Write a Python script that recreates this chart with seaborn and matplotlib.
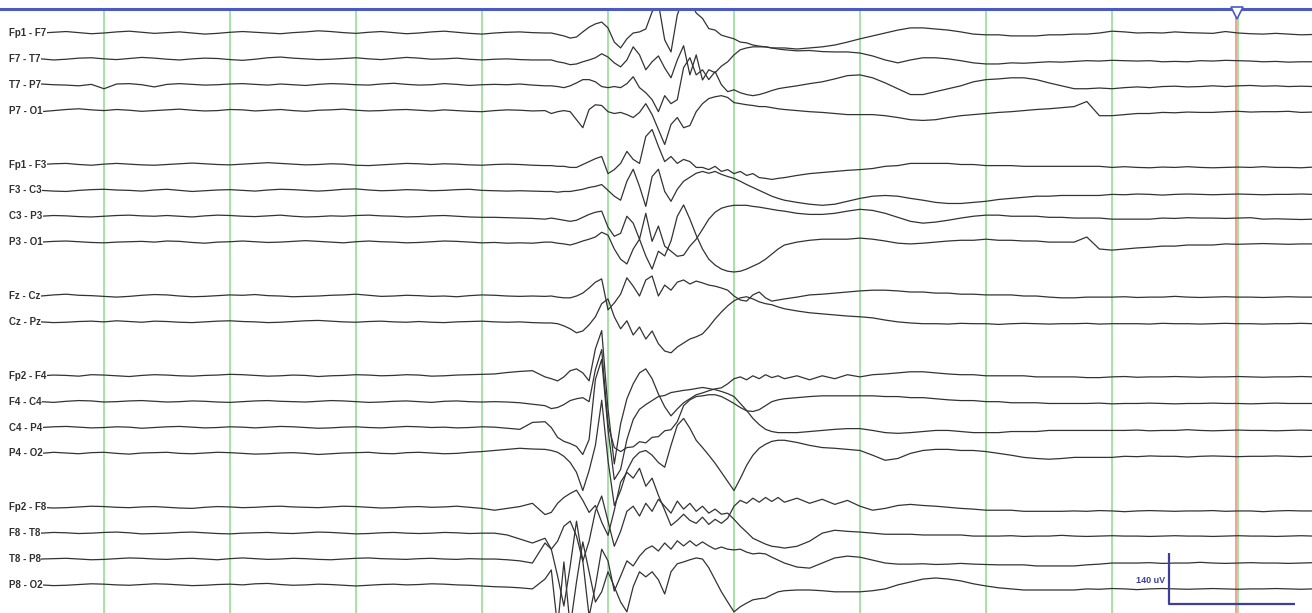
import numpy as np
import pandas as pd
import matplotlib
matplotlib.use("Agg")
import matplotlib.pyplot as plt
import matplotlib.transforms as mtransforms
import seaborn as sns

# ---------------------------------------------------------------------------
# Sampling times (s): 0.1 s before the burst, 0.05 s through it, 0.1 s after
# ---------------------------------------------------------------------------
sample_times = np.round(np.r_[np.arange(0.5, 4.51, 0.1),
                              np.arange(4.55, 6.351, 0.05),
                              np.arange(6.4, 10.61, 0.1)], 3)

# Bipolar montage (double banana) and the chain each derivation belongs to
channel_labels = ["Fp1 - F7", "F7 - T7", "T7 - P7", "P7 - O1",
                  "Fp1 - F3", "F3 - C3", "C3 - P3", "P3 - O1",
                  "Fz - Cz", "Cz - Pz",
                  "Fp2 - F4", "F4 - C4", "C4 - P4", "P4 - O2",
                  "Fp2 - F8", "F8 - T8", "T8 - P8", "P8 - O2"]
channel_chains = [0, 0, 0, 0, 1, 1, 1, 1, 2, 2, 3, 3, 3, 3, 4, 4, 4, 4]

# Amplitudes in microvolts (positive = upward deflection on screen)
fp1_f7 = [0, 2, 4, 1, -2, 0, 3, 5, 2, -1, 1, 3, 0, -3, -1, 2, 4, 2, 0, -2,
          1, 3, 6, 4, 1, -1, 2, 4, 1, -2, 0, 3, 5, 2, -1, -3, 0, 2, 3, 1, 0,
          0, -4, -8, -14, -11, 3, 16, 25, 30, 14, -25, -41, -16, 0, 3, 11, 58, 82, -19, -52,
          50, 96, 88, 55, 40, 12, 8, -6, -11, -16, -25, -27, -33, -36, -38, -41, -41,
          -41, -44, -41, -38, -33, -25, -16, -8, 0, 8, 14, 14, 11, 8, 3, -3, -5, -5, -8, -8,
          -8, -5, -5, -3, -3, 0, 5, 3, 0, 1, 0, 3, 1, 0, -1, 4, 0, -2, -3, -1, -3, -5, -4]
f7_t7 = [0, -3, -1, 2, 3, 0, -2, 1, 4, 2, -1, -3, 0, 2, 1, -2, -4, -1, 3, 5,
         2, 0, -2, -1, 1, 3, 0, -2, 1, 4, 2, -1, 0, 2, -1, -3, -1, 0, -2, -3, -3,
         -3, -8, -11, -16, -14, -8, -3, 3, 14, 5, -11, -22, -3, 33, 11, -30, -8, 8, -25, -52,
         -3, 36, -44, 11, -58, -30, -38, -20, -8, 11, 25, 30, 33, 33, 33, 30, 27,
         25, 22, 23, 20, 19, 19, 16, 8, -3, -11, -3, 3, 3, 0, -5, -11, -14, -14, -11, -12,
         -10, -8, -9, -7, -5, -6, -4, -5, -6, -5, -8, -7, -8, -5, -6, -4, -5, -6, -8, -7, -9, -8, -8]
t7_p7 = [2, 0, -1, -3, 1, -11, 2, 3, 0, -6, 1, 3, 1, -1, 0, 2, 3, 1, -1, 2,
         0, -2, 1, 3, 2, 0, -1, 2, 4, 1, -1, 0, 3, 1, -2, 0, 1, 0, 2, -1, -3,
         -3, -5, -8, -3, 5, 14, 14, 8, -5, -8, -5, -8, 3, 22, -8, -22, -41, -74, -30, -52,
         -41, 47, 74, 27, 41, 14, 36, 0, -19, -14, -22, -27, -30, -27, -22, -16, -11,
         -8, -3, 3, 8, 16, 25, 27, 19, 5, -11, -27, -27, -19, -11, -3, 8, 14, 16, 19, 19,
         14, 5, -3, -11, -11, -9, -11, -8, -6, -8, -5, -4, -6, -5, -3, -5, -3, -2, -4, -3, -5, -4, -5]
p7_o1 = [-3, 0, 3, 5, 2, 0, 3, 1, -2, 0, 2, 4, 1, -1, 0, 3, 2, -1, 1, 3,
         0, -2, 1, 2, 4, 1, -1, 0, 2, 3, 1, -1, 2, 0, -2, -3, 0, 2, 1, -1, 0,
         -8, -3, 0, -3, -25, -47, 3, 16, 14, -3, -8, -5, -11, -19, -5, 19, -11, -52, -93, -38,
         -19, -47, -41, -3, 19, 33, 38, 41, 36, 22, 19, 16, 14, 11, 11, 8, 5,
         3, 0, -3, -5, -8, -11, -11, -11, -14, -19, -25, -27, -25, -19, -14, -11, -8, -5, -3, 0,
         3, 5, 8, 11, 25, -14, -14, -11, -8, -8, -5, -6, -4, -5, -5, -3, -2, -4, -3, -3, -2, -5, -4]
fp1_f3 = [0, 2, 3, 0, -2, 1, 3, 1, -1, -2, 0, 2, 4, 2, 0, -1, 1, 3, 5, 3,
          1, -1, 0, 2, 1, -2, -3, -1, 1, 3, 2, 0, 2, 1, -1, -2, 0, 1, 0, -2, -3,
          -3, -5, -5, -8, -8, 0, 8, 16, 22, -25, -14, 3, 36, 14, 3, 77, 96, 50, 8, 22,
          3, 14, 8, -8, -8, -14, -5, -19, -14, -25, -19, -30, -25, -36, -38, -41, -38,
          -36, -30, -25, -22, -19, -16, -14, -11, -5, -3, 3, 3, 3, 3, 0, 0, -3, -3, -3, -5,
          -5, -5, -5, -5, -5, -5, -8, -6, -8, -9, -7, -8, -6, -8, -9, -8, -7, -8, -6, -8, -8, -9, -7]
f3_c3 = [0, -2, -3, 0, 2, 3, 1, 0, -2, 1, 3, 0, -3, -1, 1, 2, 0, -2, 1, 3,
         2, 0, -2, 0, 3, 4, 1, -1, 0, 2, 1, -1, 0, 2, 3, 0, -1, -2, -1, -2, -3,
         -3, -5, -3, -3, 0, 3, 8, 11, 16, 0, -16, -27, 25, 58, 11, -44, 38, 58, -3, -30,
         3, 25, 36, 47, 52, 47, 52, 44, 38, 33, 25, 16, 8, 0, -8, -16, -22,
         -27, -33, -38, -41, -38, -30, -22, -16, -14, -16, -22, -27, -33, -36, -36, -33, -30, -25, -22, -19,
         -16, -16, -14, -14, -14, -14, -11, -12, -10, -11, -13, -11, -10, -11, -12, -11, -10, -11, -12, -11, -11, -10, -11]
c3_p3 = [0, 2, 1, -1, -2, 0, 2, 3, 1, 0, 2, 0, -2, 1, 3, 2, 0, -1, 1, 3,
         0, -2, -1, 1, 0, 2, 3, 1, 0, -2, -1, 1, 2, 0, -2, -3, -3, -4, -5, -6, -8,
         -5, -8, -11, -14, -11, -3, 5, 11, 14, -30, -55, -47, 0, -19, -63, 8, -69, -27, -82, -96,
         -110, -107, -82, -63, -36, -8, 11, 22, 27, 30, 30, 30, 27, 25, 22, 19, 16,
         14, 8, 5, 5, 8, 14, 19, 16, 8, -3, -14, -19, -16, -11, -5, 0, 3, 3, 0, 0,
         0, -3, -3, -5, -5, -5, -8, -8, -8, -8, -5, -6, -4, -5, -5, -6, -5, -4, -8, -7, -8, -9, -8]
p3_o1 = [0, 2, 3, 1, -1, -2, 0, 1, 2, 0, 3, 2, -1, -3, 0, 1, 3, 1, -1, 0,
         2, 4, 2, 0, -2, 1, 3, 1, 0, -2, -1, 1, 3, 2, 0, -2, -1, -3, -2, -3, 0,
         0, -3, -5, -8, -3, 3, 8, 14, 27, 19, -19, -47, -60, -19, 8, -38, -74, -25, -38, 3,
         71, 102, 63, 19, -19, -47, -63, -74, -80, -82, -80, -74, -66, -58, -47, -33, -19,
         -8, 0, 5, 8, 8, 8, 11, 8, 3, -3, -5, -3, 0, 3, 5, 5, 8, 5, 5, 3,
         3, 0, 0, 0, 14, -19, -22, -19, -16, -14, -11, -11, -8, -8, -8, -5, -6, -5, -4, -5, -6, -5, -5]
fz_cz = [0, 3, 5, 2, 1, -1, -3, -1, 2, 4, 3, 0, -2, -1, 1, 3, 2, 4, 1, 0,
         -2, -1, 0, 2, 3, 5, 2, -1, 0, 2, 1, -1, 0, -2, 1, 3, 2, 0, -1, 0, -1,
         0, -3, -5, -5, 0, 8, 22, 38, 47, -38, -19, 5, 50, 27, 0, 44, 55, 0, 30, 16,
         38, 44, 33, 41, 36, 30, 27, 22, 16, 0, -11, -14, 3, 11, -5, -14, -11,
         -8, -3, 3, 5, 8, 11, 14, 16, 16, 14, 11, 11, 8, 8, 5, 5, 3, 3, 3, 0,
         0, -3, -5, -5, -3, -3, -3, -2, -4, -3, -3, -1, -3, -4, -3, -2, -3, -3, -4, -3, -2, -3, -3]
cz_pz = [0, -2, -1, 1, 2, 0, 3, 1, -1, 2, 1, -1, -2, 0, 2, 3, 1, 0, -2, -1,
         1, 3, 4, 2, 0, -1, 1, 2, 0, -1, 1, -1, -2, 0, 1, 2, 0, -1, 0, -2, -3,
         -3, -5, -11, -19, -30, -25, -8, 14, 50, 63, 14, -19, 3, -36, -14, -47, -25, -60, -80, -85,
         -69, -58, -47, -41, -33, -14, 8, 27, 44, 58, 66, 69, 63, 55, 50, 47, 41,
         36, 30, 25, 22, 19, 16, 14, 11, 5, 0, -3, -5, -5, -6, -4, -5, -5, -7, -5, -4,
         -5, -6, -5, -5, -4, -6, -5, -5, -5, -6, -4, -5, -5, -6, -5, -4, -5, -5, -6, -5, -5, -4, -5]
fp2_f4 = [0, 2, 1, -1, 3, 2, 0, -2, 1, 3, 2, 0, -1, 1, 2, 4, 3, 1, -1, 0,
          2, 1, -2, 0, 1, 3, 2, 0, 1, 3, 2, -1, 0, 2, 3, 4, 5, 9, 12, 14, -3,
          -8, -14, -3, 14, 19, 8, -14, 74, 124, -91, -242, -132, -63, -22, 8, 19, -8, -50, -85, -110,
          -91, -74, -63, -52, -47, -41, -36, -33, -22, -8, -3, -11, 0, -8, 3, -5, 0,
          -8, 0, -11, 0, -8, 3, -3, 3, 5, 8, 11, 11, 8, 5, 3, 3, 0, 0, 0, 0,
          -3, -3, -3, -3, -5, -5, -3, -2, -4, -3, -3, -2, -3, -4, -3, -3, -2, -3, -4, -3, -3, -2, -3]
f4_c4 = [0, -2, 1, 3, 2, -1, 0, 2, 3, 1, -1, 0, 2, 1, -1, -2, 0, 2, 3, 1,
         0, -1, 1, 3, 2, 0, -2, -1, 1, 2, 0, -2, 1, 2, 0, -1, 0, -1, -3, -7, -11,
         -19, -16, -8, 3, 8, 11, 0, 88, 143, -63, -126, -137, -126, -124, -110, -113, -98, -96, -80, -77,
         -55, -11, 5, 14, 16, 19, 19, 14, 5, -5, -16, -25, -27, -22, -11, 0, 5,
         8, 11, 14, 16, 16, 16, 16, 16, 14, 14, 11, 11, 8, 5, 3, 3, 0, 0, -3, -3,
         -3, -5, -5, -5, -5, -4, -6, -5, -5, -4, -5, -6, -5, -5, -4, -5, -5, -6, -5, -4, -5, -5, -5]
c4_p4 = [0, 2, 3, 1, -1, 0, 2, 1, -2, 0, 2, 3, 1, -1, 0, 2, 1, -1, 1, 3,
         2, 0, -2, -1, 1, 2, 0, -1, 1, 3, 2, 0, 1, -1, 0, 2, 1, -2, -5, 14, 16,
         0, -27, -38, -44, -52, -74, -33, 132, 187, -5, -143, -115, -33, 22, 50, 63, 74, 85, 88, 96,
         99, 102, 104, 107, 110, 107, 104, 99, 93, 85, 66, 47, 25, 8, -5, -11, -14,
         -14, -14, -11, -8, -5, -3, -3, -8, -14, -16, -14, -11, -8, -8, -11, -14, -14, -14, -11, -11,
         -11, -8, -8, -8, -8, -8, -8, -8, -7, -9, -8, -8, -6, -8, -9, -8, -7, -8, -8, -9, -8, -7, -8]
p4_o2 = [0, 3, 1, -1, 2, 3, 0, -2, 1, 2, 3, 0, -1, 1, 3, 2, 0, -2, -1, 1,
         2, 0, -3, -1, 1, 2, 3, 0, -1, 2, 3, 1, -1, 0, 3, 5, 8, 11, 14, 12, 11,
         8, 3, -8, -25, -52, -102, -47, 22, 146, -19, -143, -102, -47, -14, 3, 8, -5, -25, -38, 22,
         77, 96, 69, 36, 16, -5, -27, -52, -77, -102, -69, -33, -5, 14, 25, 33, 36,
         36, 30, 22, 16, 14, 11, 8, -5, -19, -14, 0, 8, 11, 11, 8, 8, 5, 0, -5, -11,
         -14, -16, -14, -11, -11, -11, -11, -8, -9, -7, -8, -8, -10, -8, -7, -8, -9, -8, -8, -7, -8, -9, -8]
fp2_f8 = [0, -2, -1, 1, 3, 2, 0, -1, 1, 2, 0, -2, -3, 0, 2, 1, -1, 0, 2, 3,
          1, 0, -1, 1, 3, 2, 0, -2, -1, 1, 2, 0, 1, 3, 0, -3, -8, -3, 2, 11, -20,
          -14, 11, 27, 38, 47, 19, -14, 5, -41, -77, -8, 69, 96, 80, 107, 58, 80, 33, -8, -50,
          -36, -19, -36, -44, -27, -47, -33, -44, -30, 3, 19, 11, 25, 14, 27, 16, 27,
          14, 25, 11, 22, 8, 19, 3, -8, -3, 5, 8, 5, 3, 0, -3, -5, -8, -8, -8, -11,
          -11, -11, -11, -10, -11, -9, -10, -12, -10, -9, -10, -11, -10, -10, -9, -11, -10, -10, -12, -10, -9, -10, -10]
f8_t8 = [0, 2, 1, -1, 0, 2, 3, 1, -2, -1, 0, 2, 3, 1, -1, -2, 0, 1, 2, 0,
         -1, 1, 3, 2, 0, -2, -1, 1, 2, 0, -1, 0, 2, 1, -1, 0, 0, -5, -16, -27, -14,
         -44, -22, 19, 33, -8, -77, -22, 60, 102, 33, -36, 5, 60, 74, 47, 82, 60, 93, 74, 55,
         88, 66, 82, 60, 74, 55, 66, 52, 55, 38, 19, 3, -14, -22, -30, -36, -38,
         -41, -36, -22, 0, 8, 5, 3, 0, -3, -3, -3, -5, -5, -5, -5, -8, -8, -8, -7, -9,
         -8, -8, -6, -8, -9, -8, -7, -8, -8, -9, -8, -7, -8, -8, -9, -8, -7, -8, -8, -9, -8, -7, -8]
t8_p8 = [0, 1, 2, 0, -2, -1, 1, 3, 2, 0, -1, 1, 2, 0, -2, 1, 3, 1, -1, 0,
         2, 1, -1, -2, 0, 2, 3, 1, 0, -1, 1, 2, 0, -1, 1, 0, 0, -2, -5, -11, 44,
         27, -47, -129, -19, 104, -5, -157, -74, 27, -5, -88, -47, -5, -19, 8, 27, 36, 22, 44, 27,
         50, 36, 50, 36, 47, 36, 27, 33, 27, 25, 27, 19, 14, 16, 14, 5, -3,
         -11, -22, -25, -11, 3, 8, 5, -3, -11, -14, -14, -13, -15, -14, -12, -14, -15, -16, -16, -16,
         -19, -19, -19, -19, -16, -14, -11, -11, -11, -10, -12, -11, -11, -9, -11, -12, -11, -10, -11, -11, -12, -11, -10]
p8_o2 = [0, -2, -1, 1, 3, 2, 0, -1, 1, 3, 2, 0, -2, -1, 1, 2, 0, 3, 4, 1,
         -1, 0, 2, 1, -1, -3, -1, 1, 2, 0, 1, 3, 2, 0, -1, -3, -5, -6, -8, -11, 16,
         41, -115, 63, -115, 8, 118, 36, -47, -19, 36, -5, -47, -74, -5, 36, 22, 36, 14, -25, 36,
         58, 63, 69, 74, 71, 47, 14, -19, -47, -74, -60, -50, -41, -38, -36, -27, -19,
         -16, -14, -14, -16, -19, -19, -19, -16, -11, 0, 8, 16, 19, 16, 11, 3, -3, -8, -11, -14,
         -14, -14, -14, -14, -11, -12, -10, -11, -13, -11, -10, -11, -12, -11, -10, -11, -12, -11, -11, -10, -11, -12, -11]

channel_traces = [fp1_f7, f7_t7, t7_p7, p7_o1,
                  fp1_f3, f3_c3, c3_p3, p3_o1,
                  fz_cz, cz_pz,
                  fp2_f4, f4_c4, c4_p4, p4_o2,
                  fp2_f8, f8_t8, t8_p8, p8_o2]

second_marks = [1, 2, 3, 4, 5, 6, 7, 8, 9, 10]
cursor_time = 9.988
scale_amplitude_uv = 140
scale_duration_s = 1

# ---------------------------------------------------------------------------
# Page geometry
# ---------------------------------------------------------------------------
FIG_W, FIG_H = 1312, 613          # pixels
TOP_PX = 9                        # blue header line
FIRST_ROW_PX = 33                 # baseline of the first derivation
PX_PER_SECOND = 126
FIRST_SECOND_PX = 104
PX_PER_UV = 51 / 140              # display sensitivity
CHANNEL_STEP_UV = 71
CHAIN_GAP_UV = 148

def px_to_time(px):
    return 1 + (px - FIRST_SECOND_PX) / PX_PER_SECOND

def px_to_uv(py):
    return (FIRST_ROW_PX - py) / PX_PER_UV

# Baseline of every derivation, a blank row between chains
offsets = []
pos = 0.0
for i, chain in enumerate(channel_chains):
    if i > 0:
        pos += CHAIN_GAP_UV if chain != channel_chains[i - 1] else CHANNEL_STEP_UV
    offsets.append(pos)

records = []
for label, trace, off in zip(channel_labels, channel_traces, offsets):
    assert len(trace) == len(sample_times), label
    for t, v in zip(sample_times, trace):
        records.append({"time": t, "amplitude": v - off, "channel": label})
df = pd.DataFrame(records)

sns.set_theme(style="white")
plt.rcParams["font.family"] = ["Liberation Sans", "DejaVu Sans"]

fig = plt.figure(figsize=(FIG_W / 100, FIG_H / 100), dpi=100)
ax = fig.add_axes([0, 0, 1, (FIG_H - TOP_PX) / FIG_H])
ax.set_facecolor("white")

# one-second grid and cursor
for s in second_marks:
    ax.axvline(s, color="#a4e3a4", lw=1.4, zorder=1)
ax.axvline(cursor_time, color="#f29a90", lw=1.3, zorder=1.5)

sns.lineplot(data=df, x="time", y="amplitude", units="channel", estimator=None,
             sort=False, color="#333333", linewidth=0.9, legend=False, ax=ax, zorder=3)

ax.set_xlim(px_to_time(0), px_to_time(FIG_W))
ax.set_ylim(px_to_uv(FIG_H), px_to_uv(TOP_PX))
ax.set_xticks([])
ax.set_yticks([])
ax.set_xlabel("")
ax.set_ylabel("")
for side in ["left", "right", "bottom"]:
    ax.spines[side].set_visible(False)
ax.spines["top"].set_color("#4a5ac2")
ax.spines["top"].set_linewidth(2.2)
ax.spines["top"].set_zorder(6)

# cursor marker on the header line
ax.plot([cursor_time + 0.006], [px_to_uv(TOP_PX + 4)], marker="v", ms=8,
        mfc="white", mec="#4a5ac2", mew=1.2, clip_on=False, zorder=7)

# channel names
blend = mtransforms.blended_transform_factory(ax.transAxes, ax.transData)
for label, off in zip(channel_labels, offsets):
    ax.text(9 / FIG_W, -off, label, transform=blend, ha="left", va="center",
            fontsize=7, fontweight="bold", color="#303030", zorder=5,
            bbox=dict(facecolor="white", edgecolor="none", pad=0.3))

# calibration bar
bar_t0 = px_to_time(1169)
bar_bottom = px_to_uv(604)
ax.plot([bar_t0, bar_t0, bar_t0 + scale_duration_s],
        [bar_bottom + scale_amplitude_uv, bar_bottom, bar_bottom],
        color="#3d3da0", lw=1.6, clip_on=False, zorder=6, solid_capstyle="butt")
ax.text(px_to_time(1165), bar_bottom + scale_amplitude_uv * 0.47,
        f"{scale_amplitude_uv} uV", ha="right", va="center", fontsize=6.5,
        fontweight="bold", color="#3d3da0", zorder=6)

fig.savefig("out.png", dpi=100)
